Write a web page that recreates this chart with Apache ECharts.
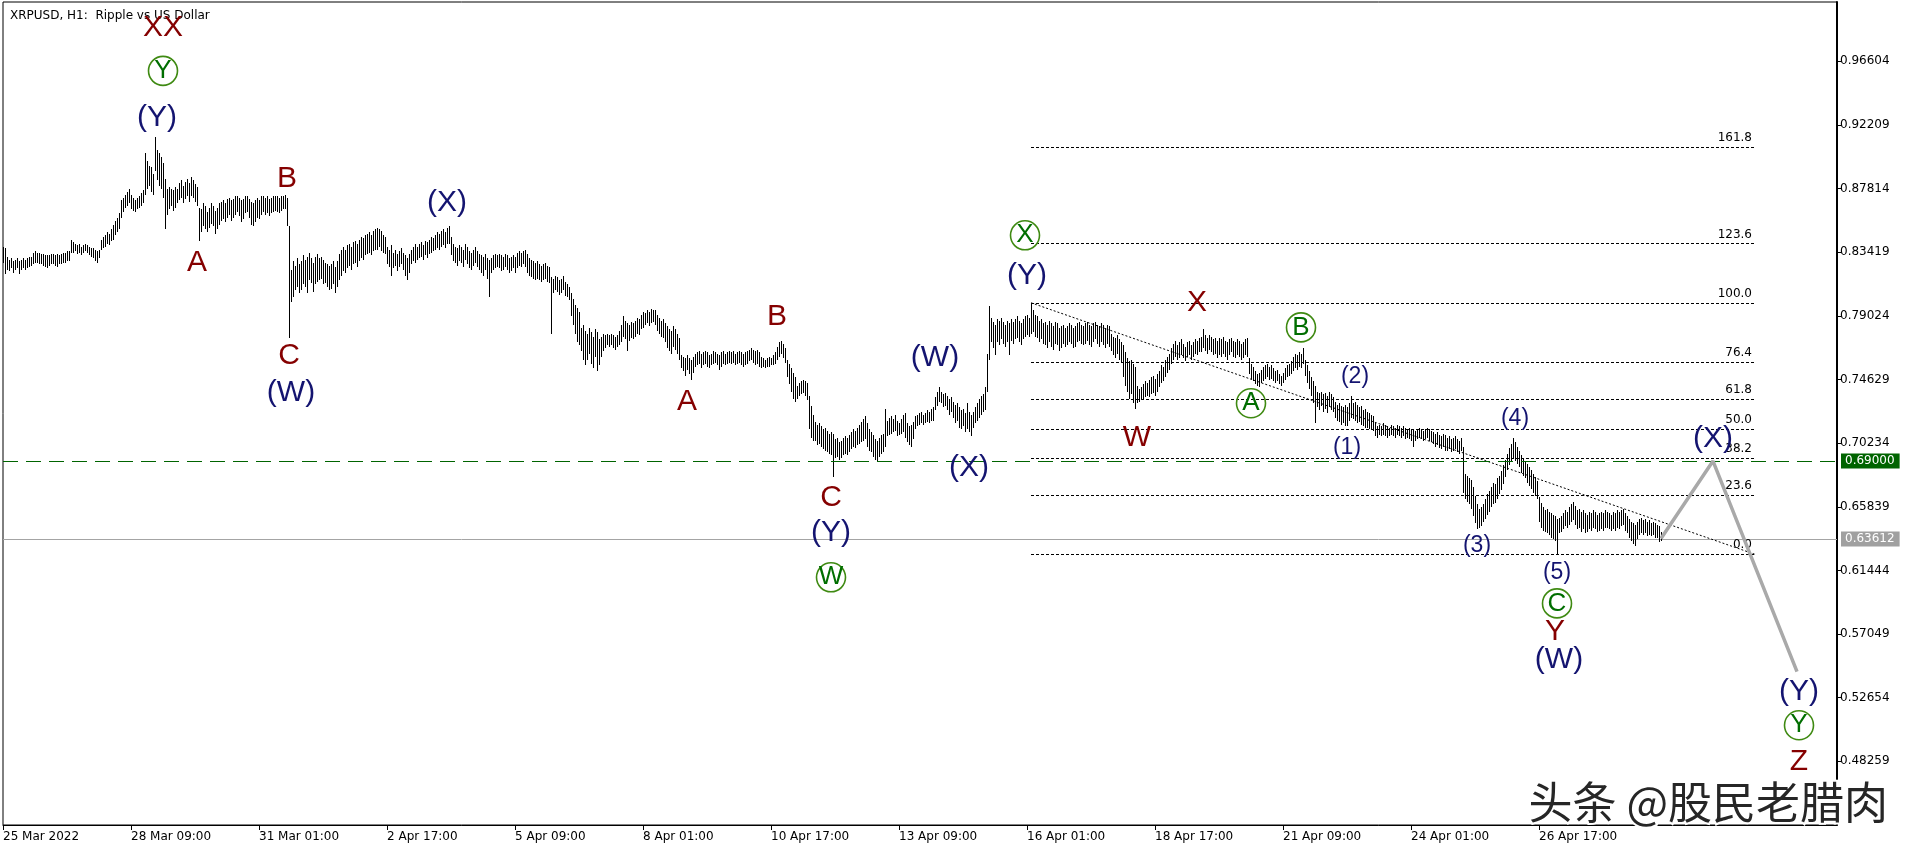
<!DOCTYPE html>
<html><head><meta charset="utf-8">
<script src="https://cdn.jsdelivr.net/npm/echarts/dist/echarts.min.js"></script>
<style>html,body{margin:0;padding:0;background:#fff}#c{width:1916px;height:852px}</style>
</head><body><div id="c"></div>
<script>
// XRPUSD H1 bars, prices in units of 0.001, bar 0 = 25 Mar 2022 17:00
const hi = [
838,837,831,829,830,828,829,830,828,829,
830,829,830,831,831,834,835,834,834,833,
833,832,832,832,833,833,832,833,832,833,
834,834,835,835,843,841,840,839,840,838,
839,840,839,838,837,837,836,835,836,843,
845,846,848,847,850,853,856,858,861,870,
872,874,876,878,874,872,870,872,873,875,
877,903,897,894,893,888,914,905,903,900,
896,885,878,879,878,877,879,878,882,884,
880,883,885,882,886,884,881,879,865,864,
868,866,862,865,868,866,863,865,868,869,
870,868,871,872,870,871,873,873,872,870,
871,873,873,871,869,868,870,872,870,873,
873,872,873,871,872,873,873,873,872,873,
873,874,872,852,822,828,825,830,826,828,
832,829,831,834,830,827,831,833,830,831,
829,827,826,825,826,828,824,828,833,836,
838,836,839,840,838,841,842,840,843,845,
844,846,847,848,846,849,850,851,850,849,
846,845,838,836,839,834,836,833,835,837,
834,832,830,833,836,838,840,838,840,841,
839,842,841,843,845,844,846,848,847,849,
850,848,851,852,845,840,838,837,839,838,
836,840,838,835,834,836,838,835,833,832,
831,833,830,829,830,832,833,832,833,832,
831,833,832,830,831,832,831,834,835,834,
835,836,833,830,829,828,827,828,826,825,
826,827,825,824,817,816,818,817,815,816,
818,814,812,810,806,802,798,796,793,782,
784,780,778,782,779,776,781,779,774,776,
778,777,778,777,778,777,776,777,780,784,
790,787,785,784,786,785,787,789,788,791,
793,792,794,793,795,794,794,791,789,787,
788,785,783,781,780,783,781,778,775,763,
762,761,763,761,760,762,764,765,766,764,
765,766,765,763,764,766,765,764,763,765,
766,764,765,766,765,766,764,765,766,765,
764,765,766,767,768,767,766,767,765,762,
761,760,761,762,761,763,765,769,772,773,
771,768,760,757,754,751,748,742,744,745,
746,745,744,735,728,722,717,715,716,714,
712,713,711,709,710,709,705,706,703,704,
706,707,706,708,710,712,711,713,715,717,
719,721,716,712,710,708,705,704,706,708,
709,726,718,720,721,719,722,718,716,719,
722,723,716,714,715,717,721,722,723,724,
722,723,725,724,726,727,734,738,741,738,
736,737,735,733,734,731,729,730,727,725,
726,723,730,724,722,724,727,730,733,735,
736,741,764,797,789,786,784,788,787,789,
786,784,787,785,788,786,788,790,787,785,
788,790,791,789,799,794,791,790,787,788,
785,786,784,787,785,783,786,785,782,783,
784,782,783,785,784,782,783,785,786,784,
783,785,786,784,783,785,786,784,783,785,
784,782,784,783,778,776,775,777,774,772,
770,765,761,759,760,757,755,742,740,741,
743,745,744,746,748,749,747,750,752,756,
755,760,762,764,768,771,773,770,772,774,
771,769,772,773,770,772,774,773,775,776,
781,777,775,777,776,774,775,773,775,774,
776,773,772,774,775,773,772,774,773,771,
772,774,775,761,757,755,752,750,751,753,
755,756,757,755,756,754,752,753,750,749,
751,754,756,757,759,762,764,763,765,764,
768,760,756,752,748,745,742,738,737,738,
736,737,735,738,736,734,731,729,730,728,
727,729,727,730,735,730,731,729,727,728,
725,726,724,723,722,721,716,714,715,714,
716,715,714,713,715,714,713,715,714,713,
714,713,712,713,712,712,711,712,713,712,
711,712,713,712,711,710,709,710,708,707,
709,708,706,707,705,706,707,705,704,706,
700,681,680,678,677,672,666,660,657,658,
660,664,667,669,672,675,674,678,680,683,
687,691,695,699,702,706,703,700,697,694,
692,690,688,686,684,681,679,676,665,661,
658,656,657,655,654,653,652,650,651,652,
654,656,655,658,660,662,659,656,657,655,
656,654,653,655,654,656,655,653,654,655,
654,656,655,654,653,655,654,656,655,656,
657,654,652,650,648,647,646,648,650,651,
649,650,648,649,647,648,647,646,645,641
];
const lo = [
827,819,822,821,823,820,822,823,819,822,
823,822,823,824,825,826,827,827,826,826,
825,824,823,825,826,826,825,824,826,826,
827,827,828,828,834,834,835,833,834,832,
834,835,834,832,831,830,828,827,830,836,
837,838,840,839,842,843,846,848,850,858,
862,865,866,868,864,863,862,864,865,866,
868,874,878,880,876,874,890,884,880,878,
872,850,860,864,866,863,865,868,870,872,
868,871,873,869,873,872,869,866,842,848,
852,850,848,851,854,852,847,850,853,856,
857,855,858,860,856,858,860,862,859,855,
857,861,862,858,853,852,855,858,857,860,
862,860,861,859,861,862,863,862,861,863,
864,864,852,775,800,803,808,810,806,808,
812,810,806,815,813,807,812,814,815,816,
812,813,810,808,809,812,806,810,815,818,
821,820,823,825,822,826,827,824,828,830,
829,832,833,834,832,835,836,836,838,835,
834,833,826,824,818,823,825,821,824,826,
822,818,815,820,826,828,827,829,830,831,
829,832,830,833,834,835,836,837,836,838,
839,837,840,840,832,828,827,825,828,827,
824,829,826,823,822,825,827,824,822,820,
818,822,816,803,820,822,823,824,823,821,
822,824,822,820,821,823,820,823,825,824,
826,824,820,818,817,816,815,816,815,814,
815,816,814,813,778,806,808,807,805,806,
808,804,803,801,790,784,778,772,770,766,
760,756,760,764,757,754,762,752,756,762,
766,768,770,769,770,768,767,769,770,772,
776,774,766,773,775,774,776,778,777,781,
782,784,785,783,785,786,784,780,778,776,
775,772,768,766,764,769,767,764,760,754,
752,749,753,750,746,751,755,756,757,754,
756,757,755,754,756,757,758,756,753,755,
757,756,757,758,757,758,756,757,758,756,
755,756,757,759,760,758,756,757,755,754,
755,754,755,755,756,756,757,760,762,764,
761,758,748,743,738,733,731,733,735,736,
737,735,732,712,706,704,704,701,702,700,
698,697,696,695,694,679,692,693,691,692,
694,695,694,696,698,700,699,701,702,703,
704,705,700,697,696,693,691,690,693,695,
696,700,707,708,709,710,711,707,708,709,
710,706,703,701,700,705,712,714,715,716,
715,716,717,716,718,718,725,728,731,730,
727,728,725,722,724,720,716,718,713,712,
714,710,712,710,707,713,716,718,720,722,
724,725,738,760,772,768,763,772,770,774,
771,769,772,763,773,771,774,775,772,770,
774,776,777,776,778,779,776,775,772,774,
771,770,768,772,769,767,771,770,766,768,
771,769,770,772,771,768,769,772,773,771,
770,771,773,770,769,772,774,771,769,772,
770,768,771,769,766,763,761,764,760,758,
748,742,738,733,736,730,726,730,731,732,
733,734,735,734,736,737,735,738,741,744,
745,748,751,753,757,760,762,760,761,763,
761,759,762,763,760,762,764,763,765,765,
768,766,764,767,765,763,764,761,763,762,
764,762,760,763,765,762,761,763,762,760,
761,763,762,750,747,745,743,742,741,744,
745,747,748,746,747,745,744,745,743,742,
744,746,748,749,750,752,754,753,755,754,
757,749,744,740,735,730,716,727,725,728,
724,726,723,727,725,724,720,718,717,715,
716,714,714,718,720,719,718,716,717,715,
714,713,713,712,712,711,707,706,708,707,
708,707,706,707,708,707,706,708,707,706,
707,705,706,705,704,700,704,705,706,705,
704,705,706,704,703,702,700,701,699,698,
700,697,697,698,696,697,698,696,695,697,
668,664,662,660,657,652,647,643,644,645,
648,650,653,655,658,660,661,664,667,670,
674,679,684,687,689,692,690,688,686,682,
680,678,675,673,671,668,666,664,648,644,
642,641,640,639,637,636,635,626,640,641,
643,645,644,646,648,649,646,643,644,641,
643,640,641,643,642,644,643,641,642,643,
642,644,644,643,642,643,642,644,643,645,
646,642,640,637,635,633,631,636,639,640,
639,640,638,639,638,639,637,637,634,635
];
const slotCount = 918; // bar slots visible on the time axis (data + future space)
const tickLabels = ["25 Mar 2022","28 Mar 09:00","31 Mar 01:00","2 Apr 17:00","5 Apr 09:00","8 Apr 01:00",
  "10 Apr 17:00","13 Apr 09:00","16 Apr 01:00","18 Apr 17:00","21 Apr 09:00","24 Apr 01:00","26 Apr 17:00"];
const barsPerTick = 64;

const yMin = 0.43864, yMax = 1.00704, yStep = 0.04395;

const fibLevels = [0, 23.6, 38.2, 50, 61.8, 76.4, 100, 123.6, 161.8];
const fibHighBar = 514, fibHigh = 0.7993;
const fibLowBar = 876, fibLow = 0.6256;

const targetPrice = 0.69;
const lastPrice = 0.63612;

const projBars = [829, 855, 897];
const projPrices = [0.6365, 0.69, 0.5445];

const waveText  = ['XX','Y','(Y)','B','A','C','(W)','(X)','B','A','(W)','(X)','C','(Y)','W','X','(Y)','X','W','B','A','(2)','(1)','(4)','(3)','(5)','C','Y','(W)','(X)','(Y)','Y','Z'];
const waveBar   = [80,80,77,142,97,143,144,222,387,342,466,483,414,414,414,511,512,597,567,649,624,676,672,756,737,777,777,776,778,855,898,898,898];
const wavePrice = [0.9895,0.9595,0.9274,0.8852,0.8272,0.7630,0.7374,0.8687,0.7899,0.7312,0.7616,0.6856,0.6649,0.6408,0.6097,0.8459,0.8183,0.7996,0.7064,0.7823,0.7299,0.7485,0.6995,0.7195,0.6318,0.6131,0.5917,0.5724,0.5531,0.7057,0.5310,0.5075,0.4826];
const waveKind  = ['red','circ','navy','red','red','red','navy','navy','red','red','navy','navy','red','navy','circ','circ','navy','red','red','circ','circ','small','small','small','small','small','circ','red','navy','navy','navy','circ','red'];

const RED = '#850000', NAVY = '#141470', GREEN = '#006e00';
const LABEL_FONT = '"Liberation Sans", Arial, sans-serif';
const AXIS_FONT = '"DejaVu Sans", sans-serif';

const categories = Array.from({length: slotCount}, (_, i) => String(i));
const barData = hi.map((h, i) => [i, h / 1000, lo[i] / 1000]);

function labelFor(kind, text) {
  if (kind === 'circ') {
    return { show: true, position: 'inside', formatter: '{c|' + text + '}',
      rich: { c: { color: GREEN, fontSize: 26, fontFamily: LABEL_FONT, width: 29, height: 29, lineHeight: 31,
        align: 'center', borderColor: '#3f8a12', borderWidth: 1.6, borderRadius: 16 } } };
  }
  const color = kind === 'red' ? RED : NAVY;
  const size = kind === 'small' ? 23 : 30;
  return { show: true, position: 'inside', formatter: text, color: color, fontSize: size, fontFamily: LABEL_FONT };
}

const waveData = waveText.map((t, k) => ({ value: [waveBar[k], wavePrice[k]], label: labelFor(waveKind[k], t) }));

const fibPrice = lv => fibLow + (fibHigh - fibLow) * lv / 100;
const fibLineData = fibLevels.map(lv => [fibHighBar, fibLowBar, fibPrice(lv)]);
const fibLabelData = fibLevels.map(lv => ({ value: [fibLowBar, fibPrice(lv)], label: {
  show: true, position: 'insideBottomRight', distance: 3, formatter: lv.toFixed(1),
  color: '#000', fontSize: 12, fontFamily: AXIS_FONT } }));

const priceBoxData = [
  { value: [slotCount - 1, targetPrice], label: { formatter: targetPrice.toFixed(5), backgroundColor: '#006400' } },
  { value: [slotCount - 1, lastPrice], label: { formatter: lastPrice.toFixed(5), backgroundColor: '#a0a0a0' } }
];

// horizontal level line drawn crisp through the axis scales
function hLineRenderer(color, dash) {
  return function (params, api) {
    const p1 = api.coord([api.value(0), api.value(2)]);
    const p2 = api.coord([api.value(1), api.value(2)]);
    const y = Math.round(p1[1]) + 0.5;
    return { type: 'line', shape: { x1: p1[0], y1: y, x2: p2[0], y2: y },
      style: { stroke: color, lineWidth: 1, lineDash: dash } };
  };
}

const showTick = (idx) => idx % barsPerTick === 0 && idx / barsPerTick < tickLabels.length;

const option = {
  animation: false,
  backgroundColor: '#fff',
  title: { text: 'XRPUSD, H1:  Ripple vs US Dollar', left: 5, top: 5,
    textStyle: { fontSize: 12, fontWeight: 'normal', color: '#000', fontFamily: AXIS_FONT } },
  grid: { left: 3, right: 79, top: 2, bottom: 27, show: true, borderColor: '#000', borderWidth: 1, backgroundColor: 'transparent' },
  xAxis: {
    type: 'category', data: categories, boundaryGap: false,
    axisLine: { lineStyle: { color: '#000', width: 1 } },
    axisTick: { show: true, length: 5, interval: showTick, lineStyle: { color: '#000' } },
    axisLabel: { interval: showTick, align: 'left', margin: 6, fontSize: 12, color: '#000', fontFamily: AXIS_FONT,
      formatter: (v) => tickLabels[Number(v) / barsPerTick] || '' },
    splitLine: { show: false }
  },
  yAxis: {
    type: 'value', position: 'right', min: yMin, max: yMax, interval: yStep, scale: true,
    axisLine: { show: true, onZero: false, lineStyle: { color: '#000', width: 2 } },
    axisTick: { show: true, length: 4, lineStyle: { color: '#000' } },
    axisLabel: { showMinLabel: false, showMaxLabel: false, margin: 3, fontSize: 12, color: '#000', fontFamily: AXIS_FONT,
      formatter: v => v.toFixed(5) },
    splitLine: { show: false }
  },
  graphic: [{
    type: 'text', right: 26, top: 778, z: 100,
    style: { text: '头条 @股民老腊肉', font: '44px "Noto Sans CJK SC"', fill: '#262626',
      stroke: '#ffffff', lineWidth: 4, strokeFirst: true,
      shadowColor: 'rgba(0,0,0,0.35)', shadowBlur: 3, shadowOffsetX: 1, shadowOffsetY: 2 }
  }],
  series: [
    { type: 'custom', z: 1, silent: true, data: [[0, slotCount - 1, lastPrice]], encode: { x: [0, 1], y: 2 },
      renderItem: hLineRenderer('#a4a4a4', null) },
    { type: 'custom', z: 2, silent: true, data: barData, encode: { x: 0, y: [1, 2] },
      renderItem: function (params, api) {
        const x = api.value(0);
        const a = api.coord([x, api.value(1)]);
        const b = api.coord([x, api.value(2)]);
        const px = Math.round(a[0]) + 0.5;
        const y1 = Math.round(a[1]);
        const y2 = Math.max(Math.round(b[1]), y1 + 1);
        return { type: 'line', shape: { x1: px, y1: y1, x2: px, y2: y2 }, style: { stroke: '#000', lineWidth: 1 } };
      } },
    { type: 'custom', z: 3, silent: true, data: fibLineData, encode: { x: [0, 1], y: 2 },
      renderItem: hLineRenderer('#000', [3, 2]) },
    { type: 'line', silent: true, symbol: 'none', z: 3,
      data: [[fibHighBar, fibHigh], [fibLowBar, fibLow]],
      lineStyle: { color: '#000', width: 1, type: [2, 2] } },
    { type: 'custom', z: 4, silent: true, data: [[0, slotCount - 1, targetPrice]], encode: { x: [0, 1], y: 2 },
      renderItem: hLineRenderer('#006400', [15, 8]) },
    { type: 'scatter', silent: true, symbolSize: 0, z: 5, itemStyle: { opacity: 1 }, data: fibLabelData },
    { type: 'scatter', silent: true, symbolSize: 0, z: 5, itemStyle: { opacity: 1 }, data: priceBoxData,
      label: { show: true, position: 'right', distance: 4, color: '#fff', padding: [2, 5, 1, 4],
        fontSize: 12, fontFamily: AXIS_FONT } },
    { type: 'line', silent: true, symbol: 'none', z: 6,
      data: projBars.map((b, k) => [b, projPrices[k]]),
      lineStyle: { color: '#a9a9a9', width: 3.5 } },
    { type: 'scatter', silent: true, symbolSize: 0, z: 7, itemStyle: { opacity: 1 }, data: waveData }
  ]
};
echarts.init(document.getElementById('c'), null, { renderer: 'canvas' }).setOption(option);
</script></body></html>
